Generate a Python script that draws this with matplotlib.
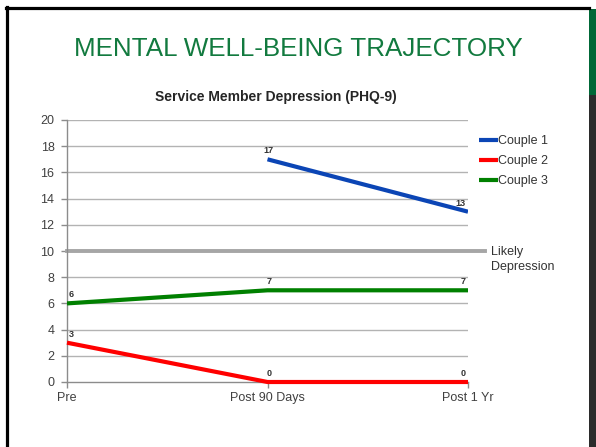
import matplotlib
matplotlib.use("Agg")
import matplotlib.pyplot as plt
import numpy as np
from matplotlib.patches import Rectangle
from matplotlib.lines import Line2D

categories = ["Pre", "Post 90 Days", "Post 1 Yr"]
couple1 = [np.nan, 17, 13]
couple2 = [3, 0, 0]
couple3 = [6, 7, 7]
threshold = 10
yticks = list(range(0, 21, 2))

plt.rcParams['font.family'] = ['Liberation Sans', 'DejaVu Sans']

W, H = 596, 447
fig = plt.figure(figsize=(W / 100, H / 100), dpi=100)
fig.patch.set_facecolor('white')

def fx(px):
    return px / W

def fy(py):
    return 1 - py / H

# Slide frame
fig.add_artist(Line2D([fx(7.5), fx(7.5)], [fy(7), fy(447)], color='black', lw=2.3))
fig.add_artist(Line2D([fx(6), fx(589)], [fy(7.5), fy(7.5)], color='black', lw=2.3))
fig.add_artist(Rectangle((fx(589), fy(447)), fx(7), 352 / H, color='#2b2b2b', lw=0))
fig.add_artist(Rectangle((fx(589), fy(95)), fx(7), 86 / H, color='#006837', lw=0))

fig.text(0.5, fy(48.5), "MENTAL WELL-BEING TRAJECTORY", ha='center', va='center',
         fontsize=18.7, color='#127a3f')

ax = fig.add_axes([fx(67), fy(382), fx(468) - fx(67), (382 - 120) / H])
ax.set_facecolor('none')
x = np.arange(len(categories))

ax.set_title("Service Member Depression (PHQ-9)", fontsize=10, fontweight='bold',
             color='#262626', pad=14, x=0.52)

for yv in yticks[1:]:
    ax.axhline(yv, color='#b3b3b3', lw=1, zorder=1)

ax.axhline(threshold, xmin=0, xmax=(485 - 67) / (468 - 67), color='#a6a6a6', lw=2.8,
           clip_on=False, zorder=2)

lc = '#0b45b5'
l1, = ax.plot(x, couple1, color=lc, lw=3, label='Couple 1', zorder=3, solid_capstyle='butt')
l2, = ax.plot(x, couple2, color='#ff0000', lw=3, label='Couple 2', zorder=3, solid_capstyle='butt', clip_on=False)
l3, = ax.plot(x, couple3, color='#008000', lw=3, label='Couple 3', zorder=3, solid_capstyle='butt')

for series in (couple1, couple2, couple3):
    for xi, v in zip(x, series):
        if np.isnan(v):
            continue
        if xi == len(categories) - 1:
            ax.annotate(f"{v:g}", (xi, v), xytext=(-2, 3), textcoords='offset points',
                        ha='right', va='bottom', fontsize=6.5, fontweight='bold', color='#333333')
        else:
            ax.annotate(f"{v:g}", (xi, v), xytext=(1, 3), textcoords='offset points',
                        ha='left' if xi == 0 else 'center', va='bottom', fontsize=6.5,
                        fontweight='bold', color='#333333')

ax.set_xlim(0, 2)
ax.set_ylim(0, 20)
ax.set_xticks(x)
ax.set_xticklabels(categories)
ax.set_yticks(yticks)
ax.tick_params(axis='both', labelsize=9, colors='#8c8c8c', labelcolor='#404040', length=4, width=1)
ax.tick_params(axis='x', pad=3)
ax.tick_params(axis='y', pad=5)
for side in ('top', 'right'):
    ax.spines[side].set_visible(False)
for side in ('left', 'bottom'):
    ax.spines[side].set_color('#8c8c8c')
    ax.spines[side].set_linewidth(1)

leg = ax.legend(handles=[l1, l2, l3], loc='upper left',
                bbox_to_anchor=((474 - 67) / (468 - 67), 1 - (130 - 120) / 262),
                frameon=False, fontsize=9, handlelength=1.5, handletextpad=0.0,
                labelspacing=0.65, borderaxespad=0, labelcolor='#333333')

ax.text(2 * (491 - 67) / (468 - 67), 9.35, "Likely\nDepression", transform=ax.transData,
        ha='left', va='center', fontsize=9, color='#333333', clip_on=False, linespacing=1.3)

fig.savefig("out.png", dpi=100)
